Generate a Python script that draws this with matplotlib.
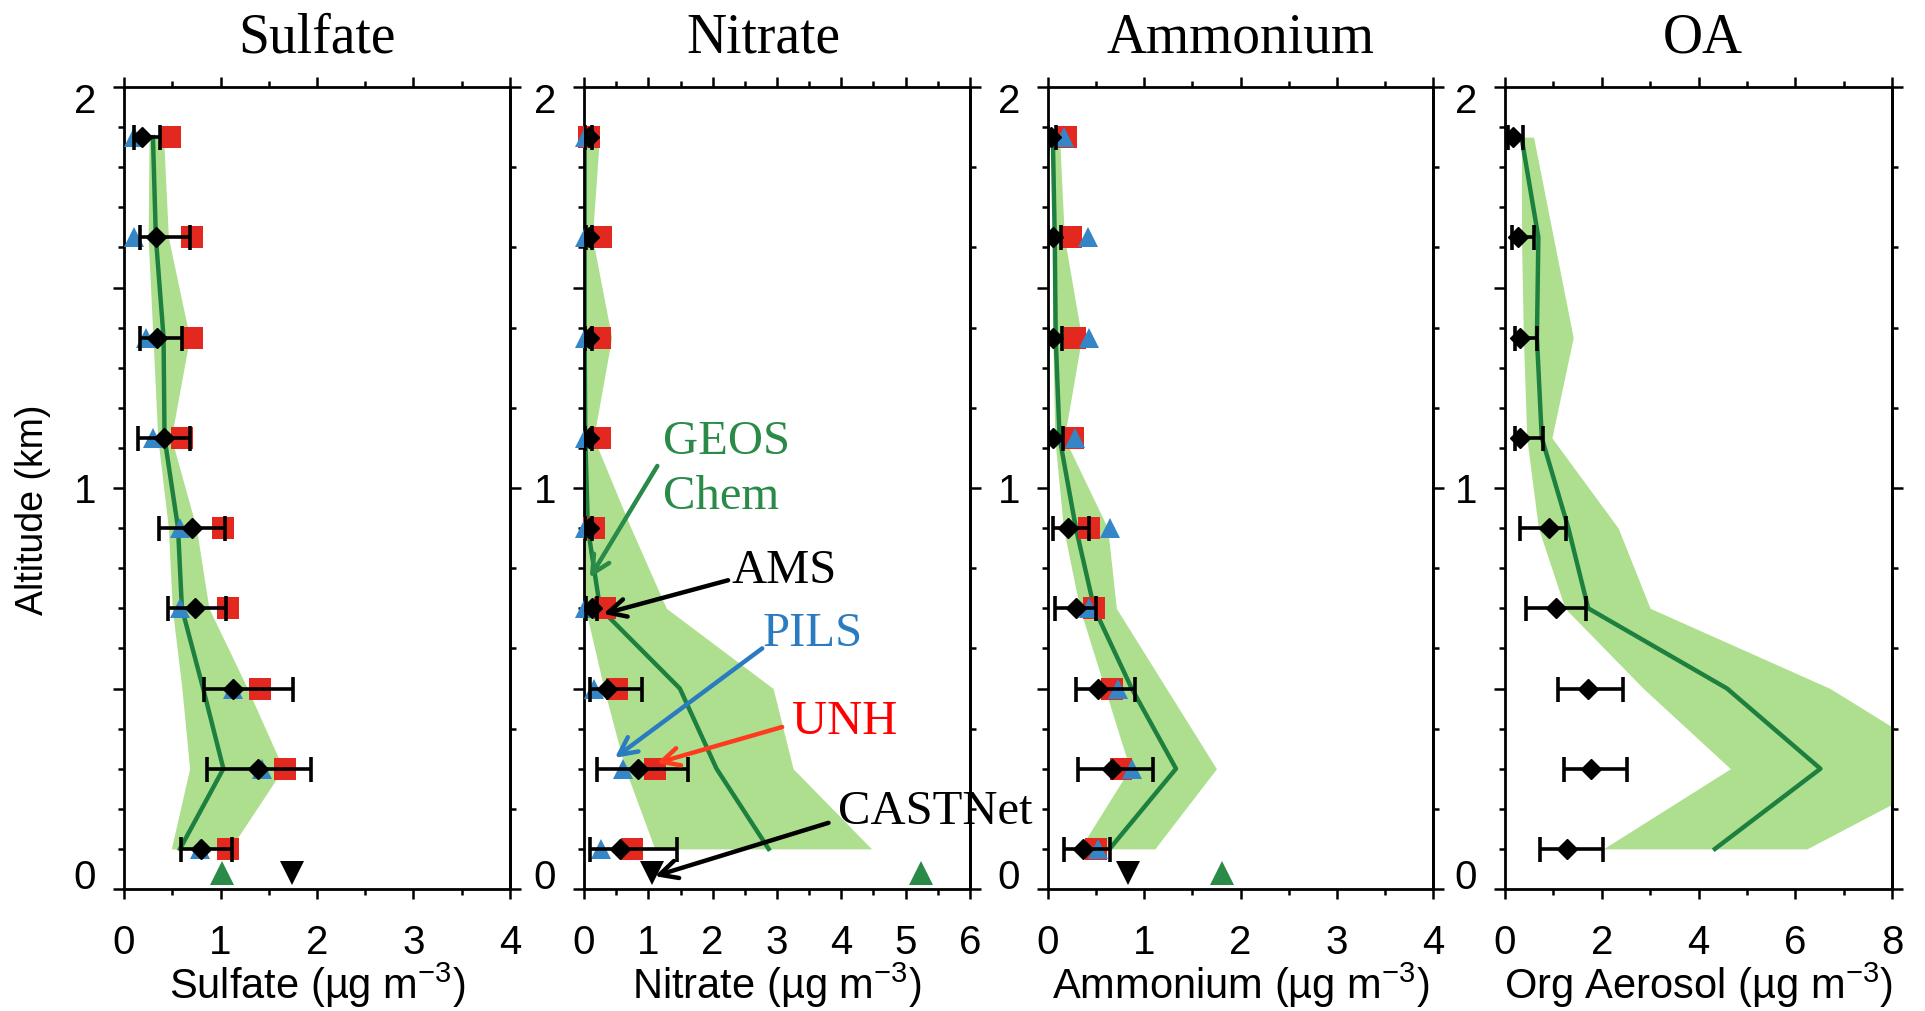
import numpy as np
import matplotlib.pyplot as plt
from matplotlib.ticker import MultipleLocator
from matplotlib.transforms import ScaledTranslation

plt.rcParams['font.family'] = ['Liberation Sans', 'DejaVu Sans']
plt.rcParams['mathtext.fontset'] = 'custom'
plt.rcParams['mathtext.rm'] = 'Liberation Sans'
plt.rcParams['mathtext.it'] = 'Liberation Sans:italic'

# altitude bins (km) and surface level
alt = np.array([1.875, 1.625, 1.375, 1.125, 0.9, 0.7, 0.5, 0.3, 0.1])
surf_alt = 0.04

# sulfate
so4_ams = [0.19, 0.33, 0.34, 0.41, 0.70, 0.74, 1.13, 1.39, 0.80]
so4_ams_lo = [0.10, 0.17, 0.17, 0.15, 0.36, 0.46, 0.83, 0.86, 0.59]
so4_ams_hi = [0.37, 0.68, 0.60, 0.68, 1.05, 1.06, 1.75, 1.94, 1.12]
so4_pils = [0.10, 0.10, 0.23, 0.30, 0.58, 0.58, 1.13, 1.43, 0.79]
so4_unh = [0.48, 0.70, 0.70, 0.60, 1.03, 1.08, 1.41, 1.67, 1.08]
so4_model = [0.30, 0.33, 0.41, 0.42, 0.56, 0.60, 0.82, 1.03, 0.58]
so4_model_lo = [0.26, 0.25, 0.30, 0.35, 0.46, 0.50, 0.60, 0.68, 0.49]
so4_model_hi = [0.41, 0.46, 0.68, 0.49, 0.75, 0.88, 1.28, 1.65, 1.10]
so4_castnet = 1.74
so4_model_sfc = 1.02

# nitrate
no3_ams = [0.07, 0.08, 0.07, 0.07, 0.07, 0.12, 0.35, 0.84, 0.56]
no3_ams_lo = [0.02, 0.03, 0.02, 0.02, 0.02, 0.03, 0.09, 0.20, 0.09]
no3_ams_hi = [0.12, 0.13, 0.12, 0.12, 0.12, 0.20, 0.90, 1.62, 1.44]
no3_pils = [0.01, 0.01, 0.01, 0.01, 0.01, 0.01, 0.15, 0.61, 0.27]
no3_unh = [0.08, 0.27, 0.25, 0.25, 0.15, 0.33, 0.51, 1.10, 0.74]
no3_model = [0.01, 0.01, 0.01, 0.02, 0.06, 0.25, 1.49, 2.06, 2.87]
no3_model_lo = [0.0, 0.0, 0.0, 0.0, 0.0, 0.02, 0.31, 0.64, 1.10]
no3_model_hi = [0.24, 0.13, 0.43, 0.15, 0.73, 1.28, 2.94, 3.25, 4.47]
no3_castnet = 1.05
no3_model_sfc = 5.24

# ammonium
nh4_ams = [0.03, 0.05, 0.05, 0.05, 0.21, 0.29, 0.52, 0.66, 0.36]
nh4_ams_lo = [0.0, 0.0, 0.0, 0.0, 0.05, 0.07, 0.29, 0.31, 0.17]
nh4_ams_hi = [0.08, 0.14, 0.15, 0.16, 0.43, 0.50, 0.90, 1.09, 0.64]
nh4_pils = [0.17, 0.42, 0.43, 0.28, 0.64, 0.43, 0.73, 0.87, 0.52]
nh4_unh = [0.19, 0.24, 0.28, 0.26, 0.43, 0.48, 0.66, 0.76, 0.50]
nh4_model = [0.05, 0.07, 0.08, 0.12, 0.29, 0.48, 0.87, 1.33, 0.64]
nh4_model_lo = [0.03, 0.05, 0.05, 0.07, 0.16, 0.33, 0.59, 0.85, 0.33]
nh4_model_hi = [0.12, 0.17, 0.35, 0.17, 0.62, 0.71, 1.23, 1.75, 1.11]
nh4_castnet = 0.83
nh4_model_sfc = 1.81

# organic aerosol (AMS only)
oa_ams = [0.17, 0.26, 0.31, 0.30, 0.90, 1.06, 1.72, 1.78, 1.28]
oa_ams_lo = [0.07, 0.14, 0.21, 0.21, 0.31, 0.43, 1.10, 1.21, 0.72]
oa_ams_hi = [0.38, 0.60, 0.66, 0.78, 1.26, 1.67, 2.43, 2.53, 2.02]
oa_model = [0.34, 0.69, 0.66, 0.76, 1.31, 1.72, 4.59, 6.52, 4.34]
oa_model_lo = [0.34, 0.34, 0.38, 0.45, 0.69, 1.24, 2.86, 4.66, 2.03]
oa_model_hi = [0.59, 1.00, 1.41, 0.97, 2.34, 3.00, 6.72, 9.40, 6.24]

titles = ['Sulfate', 'Nitrate', 'Ammonium', 'OA']
xlabels = ['Sulfate (µg m$^{-3}$)', 'Nitrate (µg m$^{-3}$)',
           'Ammonium (µg m$^{-3}$)', 'Org Aerosol (µg m$^{-3}$)']
xmaxes = [4, 6, 4, 8]
xmajor = [1, 1, 1, 2]

panels = [
    (so4_ams, so4_ams_lo, so4_ams_hi, so4_pils, so4_unh, so4_model, so4_model_lo, so4_model_hi, so4_castnet, so4_model_sfc),
    (no3_ams, no3_ams_lo, no3_ams_hi, no3_pils, no3_unh, no3_model, no3_model_lo, no3_model_hi, no3_castnet, no3_model_sfc),
    (nh4_ams, nh4_ams_lo, nh4_ams_hi, nh4_pils, nh4_unh, nh4_model, nh4_model_lo, nh4_model_hi, nh4_castnet, nh4_model_sfc),
    (oa_ams, oa_ams_lo, oa_ams_hi, None, None, oa_model, oa_model_lo, oa_model_hi, None, None),
]

BAND = '#addf8f'
LINE = '#1d803f'
RED = '#e3281f'
BLUE = '#3586c6'
GREEN = '#2a8a48'

W, H = 1925, 1011
lefts = [124, 584, 1048, 1505]
widths = [386, 386, 385, 387]
title_x = [0.5, 0.464, 0.5, 0.51]

fig = plt.figure(figsize=(W / 100, H / 100), dpi=100)

for i in range(4):
    ams, lo, hi, pils, unh, mod, mlo, mhi, cast, msfc = panels[i]
    ax = fig.add_axes([lefts[i] / W, 1 - 889 / H, widths[i] / W, 802 / H])
    ax.set_facecolor('none')

    ax.fill_betweenx(alt, mlo, mhi, color=BAND, lw=0, zorder=1)
    ax.plot(mod, alt, color=LINE, lw=3.2, zorder=2)

    if unh is not None:
        ax.plot(unh, alt, 's', color=RED, ms=16, mew=0, zorder=3, clip_on=False)
        ax.plot(pils, alt, '^', color=BLUE, ms=14, mew=0, zorder=4, clip_on=False)
    ams = np.array(ams)
    xerr = [ams - np.array(lo), np.array(hi) - ams]
    ax.errorbar(ams, alt, xerr=xerr, fmt='D', color='k', ms=10, elinewidth=2.6,
                capsize=9, capthick=2.6, zorder=5)
    if cast is not None:
        ax.plot([cast], [surf_alt], 'v', color='k', ms=17, mew=0, zorder=5, clip_on=False)
        ax.plot([msfc], [surf_alt], '^', color=GREEN, ms=17, mew=0, zorder=5, clip_on=False)

    ax.set_xlim(0, xmaxes[i])
    ax.set_ylim(0, 2)

    for s in ax.spines.values():
        s.set_linewidth(2.0)

    ax.xaxis.set_major_locator(MultipleLocator(xmajor[i]))
    ax.xaxis.set_minor_locator(MultipleLocator(xmajor[i] / 2))
    ax.yaxis.set_minor_locator(MultipleLocator(0.1))
    ax.set_yticks([0, 0.5, 1, 1.5, 2], ['0', '', '1', '', '2'])
    ax.tick_params(which='both', direction='out', top=True, bottom=True,
                   left=True, right=False, width=1.8, labelsize=29)
    ax.tick_params(axis='x', which='major', length=7, pad=18)
    ax.tick_params(axis='x', which='minor', length=4)
    ax.tick_params(axis='y', which='major', length=8, pad=12)
    ax.tick_params(axis='y', which='minor', length=4)

    # end labels sit a little inside the axis range, as in the original
    for t in ax.yaxis.get_major_ticks():
        v = t.get_loc()
        if v == 0:
            t.label1.set_va('baseline')
        elif v == 2:
            t.label1.set_transform(t.label1.get_transform() +
                                   ScaledTranslation(0, -8 / 72, fig.dpi_scale_trans))

    sec = ax.secondary_yaxis('right')
    sec.spines['right'].set_linewidth(2.0)
    sec.yaxis.set_major_locator(MultipleLocator(1.0))
    sec.yaxis.set_minor_locator(MultipleLocator(0.2))
    sec.tick_params(which='both', direction='out', width=1.8, labelright=False)
    sec.tick_params(which='major', length=8)
    sec.tick_params(which='minor', length=4)

    ax.text(title_x[i], 1.0436, titles[i], transform=ax.transAxes, ha='center',
            va='baseline', fontsize=40, family='Liberation Serif')
    ax.text(0.5, -0.137, xlabels[i], transform=ax.transAxes, ha='center',
            va='baseline', fontsize=30)

    if i == 0:
        ax.text(-0.236, 0.4726, 'Altitude (km)', transform=ax.transAxes,
                rotation=90, ha='center', va='center', fontsize=27)

    if i == 1:
        serif = dict(family='Liberation Serif', fontsize=35, va='baseline', zorder=10)
        ax.text(1.23, 1.085, 'GEOS', color=GREEN, **serif)
        ax.text(1.23, 0.948, 'Chem', color=GREEN, **serif)
        ax.text(2.30, 0.763, 'AMS', color='k', **serif)
        ax.text(2.77, 0.606, 'PILS', color='#2b7bc0', **serif)
        ax.text(3.23, 0.387, 'UNH', color='#ff0000', **serif)
        ax.text(3.95, 0.162, 'CASTNet', color='k', **serif)
        arrows = [((1.14, 1.055), (0.09, 0.776), GREEN),
                  ((2.24, 0.770), (0.30, 0.686), 'k'),
                  ((2.77, 0.600), (0.48, 0.327), '#2b7bc0'),
                  ((3.08, 0.404), (1.13, 0.314), '#ff3b1f'),
                  ((3.80, 0.165), (1.10, 0.032), 'k')]
        for tail, head, c in arrows:
            ax.annotate('', xy=head, xytext=tail, zorder=10,
                        arrowprops=dict(arrowstyle='->', color=c, lw=3.2,
                                        mutation_scale=32, shrinkA=0, shrinkB=0))

fig.savefig('out.png', dpi=100, facecolor='white')
